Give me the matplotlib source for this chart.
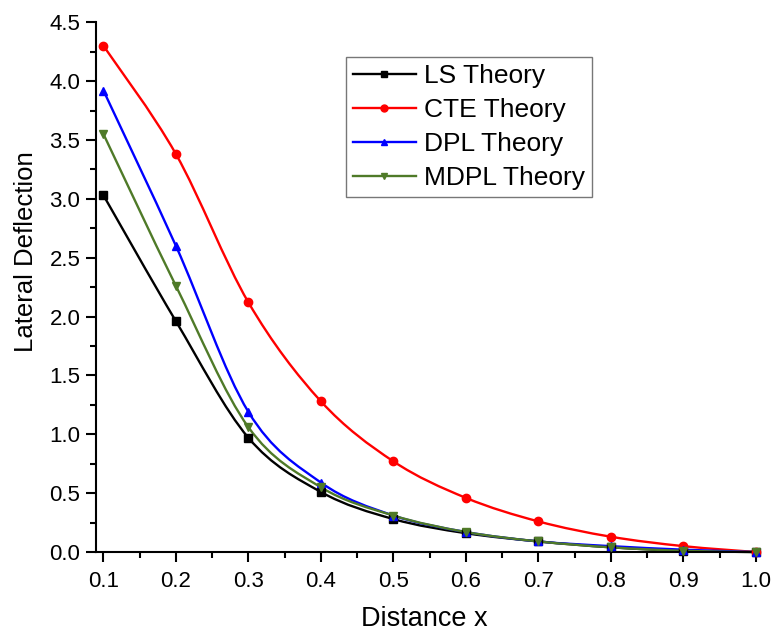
import matplotlib
matplotlib.use("Agg")
import matplotlib.pyplot as plt
import numpy as np
from matplotlib.path import Path
from matplotlib.patches import PathPatch
from matplotlib.lines import Line2D
from matplotlib.ticker import MultipleLocator

plt.rcParams['font.family'] = ['Liberation Sans', 'DejaVu Sans']

x = [0.1, 0.2, 0.3, 0.4, 0.5, 0.6, 0.7, 0.8, 0.9, 1.0]
ls_theory = [3.03, 1.96, 0.97, 0.51, 0.28, 0.16, 0.09, 0.04, 0.01, 0.0]
cte_theory = [4.30, 3.38, 2.12, 1.28, 0.77, 0.46, 0.26, 0.13, 0.05, 0.0]
dpl_theory = [3.92, 2.60, 1.19, 0.59, 0.31, 0.17, 0.09, 0.05, 0.02, 0.0]
mdpl_theory = [3.55, 2.26, 1.06, 0.55, 0.31, 0.17, 0.09, 0.04, 0.01, 0.0]
labels = ["LS Theory", "CTE Theory", "DPL Theory", "MDPL Theory"]
yticks = [0.0, 0.5, 1.0, 1.5, 2.0, 2.5, 3.0, 3.5, 4.0, 4.5]


def smooth_path(xs, ys):
    # catmull-rom through the points, drawn as cubic bezier segments
    p = np.column_stack([xs, ys])
    p = np.vstack([p[0], p, p[-1]])
    verts = [p[1]]
    codes = [Path.MOVETO]
    for i in range(1, len(p) - 2):
        c1 = p[i] + (p[i + 1] - p[i - 1]) / 6
        c2 = p[i + 1] - (p[i + 2] - p[i]) / 6
        verts += [c1, c2, p[i + 1]]
        codes += [Path.CURVE4] * 3
    return Path(verts, codes)


fig = plt.figure(figsize=(7.76, 6.37), dpi=100)
ax = fig.add_axes([0.124, 0.1334, 0.85, 0.8316])

series = [ls_theory, cte_theory, dpl_theory, mdpl_theory]
colors = ['black', '#ff0000', '#0000ff', '#4f7a28']
markers = ['s', 'o', '^', 'v']
handles = []
for ys, c, m, lab in zip(series, colors, markers, labels):
    ax.add_patch(PathPatch(smooth_path(x, ys), facecolor='none', edgecolor=c,
                           lw=1.7, zorder=2, clip_on=False))
    ax.plot(x, ys, linestyle='none', marker=m, color=c, markersize=6,
            zorder=3, clip_on=False)
    handles.append(Line2D([], [], color=c, lw=1.7, marker=m, markersize=5))

ax.set_xlim(0.09, 1.0)
ax.set_ylim(0, 4.5)
ax.xaxis.set_minor_locator(MultipleLocator(0.05))
ax.yaxis.set_minor_locator(MultipleLocator(0.25))
ax.set_xticks(x)
ax.set_xticklabels([f"{v:.1f}" for v in x])
ax.set_yticks(yticks)
ax.set_yticklabels([f"{v:.1f}" for v in yticks])

ax.spines['top'].set_visible(False)
ax.spines['right'].set_visible(False)
for s in ['left', 'bottom']:
    ax.spines[s].set_linewidth(1.5)
ax.tick_params(which='major', direction='out', length=7.5, width=1.5,
               labelsize=16, pad=4)
ax.tick_params(axis='x', which='major', pad=6)
ax.tick_params(which='minor', direction='out', length=4, width=1.5)

ax.set_xlabel("Distance x", fontsize=19.5)
ax.set_ylabel("Lateral Deflection", fontsize=18.5)
ax.xaxis.set_label_coords(0.498, -0.102)
ax.yaxis.set_label_coords(-0.088, 0.568)

leg = ax.legend(handles, labels, loc='upper left', bbox_to_anchor=(0.379, 0.934),
                borderaxespad=0, fontsize=19, frameon=True, fancybox=False,
                handlelength=2.4, handletextpad=0.3, labelspacing=0.38,
                borderpad=0.25)
leg.get_frame().set_edgecolor('#555555')
leg.get_frame().set_linewidth(1.0)

fig.savefig("out.png", dpi=100)
